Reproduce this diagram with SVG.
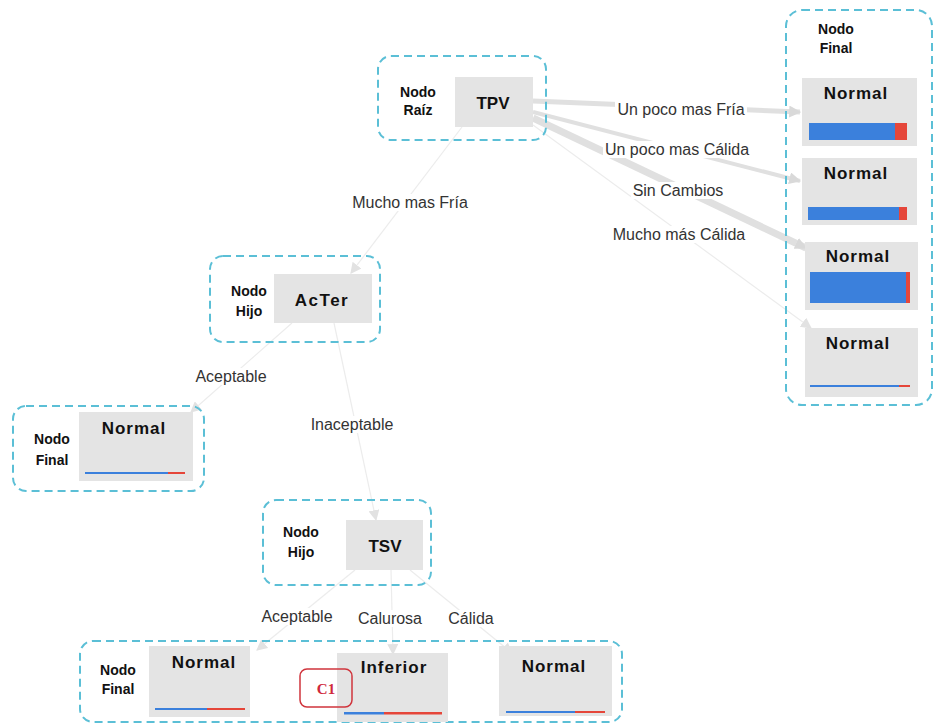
<svg xmlns="http://www.w3.org/2000/svg" width="934" height="727" viewBox="0 0 934 727">
<style>
.frame{fill:none;stroke:#5bbfd6;stroke-width:2;stroke-dasharray:8 5}
.box{fill:#e4e4e4}
.tag{font-family:"Liberation Sans",Arial,sans-serif;font-size:14px;font-weight:bold;fill:#111;text-anchor:middle}
.title{font-family:"Liberation Sans",Arial,sans-serif;font-size:17px;font-weight:bold;fill:#111;text-anchor:middle;letter-spacing:1px}
.lbl{font-family:"Liberation Sans",Arial,sans-serif;font-size:16px;fill:#333;text-anchor:middle}
.bg{fill:#fff}
.edge{fill:none;stroke:#e0e0e0}
.thin{fill:none;stroke:#ececec;stroke-width:1.2}
.blue{fill:#3b80dc}
.red{fill:#e5463a}
</style>
<defs>
<marker id="ah" viewBox="0 0 10 10" refX="9" refY="5" markerWidth="12" markerHeight="12" markerUnits="userSpaceOnUse" orient="auto">
<path d="M0,0 L10,5 L0,10 z" fill="#d9d9d9"/>
</marker>
<marker id="ahl" viewBox="0 0 10 10" refX="9" refY="5" markerWidth="11" markerHeight="11" markerUnits="userSpaceOnUse" orient="auto">
<path d="M0,0 L10,5 L0,10 z" fill="#e2e2e2"/>
</marker>
</defs>

<g id="connectors">
<line class="edge" x1="533" y1="101" x2="800" y2="112" stroke-width="5" marker-end="url(#ah)"/>
<line class="edge" x1="533" y1="112" x2="800" y2="181" stroke-width="4" marker-end="url(#ah)"/>
<line class="edge" x1="533" y1="118" x2="806" y2="248" stroke-width="7" marker-end="url(#ah)"/>
<line class="thin" x1="533" y1="125" x2="811" y2="328" marker-end="url(#ahl)"/>
<line class="thin" x1="462" y1="127" x2="351" y2="273" marker-end="url(#ahl)"/>
<line class="thin" x1="292" y1="323" x2="191" y2="412" marker-end="url(#ahl)"/>
<line class="thin" x1="334" y1="323" x2="376" y2="520" marker-end="url(#ahl)"/>
<line class="thin" x1="355" y1="570" x2="257" y2="650" marker-end="url(#ahl)"/>
<line class="thin" x1="391" y1="570" x2="393" y2="654" marker-end="url(#ahl)"/>
<line class="thin" x1="410" y1="570" x2="512" y2="653" marker-end="url(#ahl)"/>
<rect class="bg" x="615" y="101" width="132" height="17"/>
<rect class="bg" x="603" y="141" width="148" height="17"/>
<rect class="bg" x="631" y="182" width="94" height="17"/>
<rect class="bg" x="609" y="226" width="140" height="17"/>
<rect class="bg" x="350" y="194" width="120" height="17"/>
<rect class="bg" x="194" y="368" width="74" height="17"/>
<rect class="bg" x="310" y="416" width="85" height="17"/>
<rect class="bg" x="260" y="608" width="74" height="17"/>
<rect class="bg" x="358" y="610" width="65" height="17"/>
<rect class="bg" x="447" y="610" width="48" height="17"/>
<text class="lbl" x="681" y="115">Un poco mas Fría</text>
<text class="lbl" x="677" y="155">Un poco mas Cálida</text>
<text class="lbl" x="678" y="196">Sin Cambios</text>
<text class="lbl" x="679" y="240">Mucho más Cálida</text>
<text class="lbl" x="410" y="208">Mucho mas Fría</text>
<text class="lbl" x="231" y="382">Aceptable</text>
<text class="lbl" x="352" y="430">Inaceptable</text>
<text class="lbl" x="297" y="622">Aceptable</text>
<text class="lbl" x="390" y="624">Calurosa</text>
<text class="lbl" x="471" y="624">Cálida</text>
</g>

<g id="root">
<rect class="frame" x="378" y="56" width="168" height="84" rx="13"/>
<rect class="box" x="455" y="77" width="78" height="50"/>
<text class="title" x="493" y="109" style="letter-spacing:0">TPV</text>
<text class="tag" x="418" y="97">Nodo</text>
<text class="tag" x="418" y="115">Raíz</text>
</g>

<g id="final-right">
<rect class="frame" x="786" y="10" width="146" height="395" rx="16"/>
<text class="tag" x="836" y="34">Nodo</text>
<text class="tag" x="836" y="53">Final</text>
</g>

<g id="normal-r1">
<rect class="box" x="802" y="78" width="115" height="68"/>
<text class="title" x="856" y="99">Normal</text>
<rect class="blue" x="809" y="123" width="86" height="17"/>
<rect class="red" x="895" y="123" width="12" height="17"/>
</g>
<g id="normal-r2">
<rect class="box" x="802" y="158" width="115" height="67"/>
<text class="title" x="856" y="179">Normal</text>
<rect class="blue" x="808" y="207" width="91" height="13"/>
<rect class="red" x="899" y="207" width="8" height="13"/>
</g>
<g id="normal-r3">
<rect class="box" x="805" y="242" width="113" height="68"/>
<text class="title" x="858" y="262">Normal</text>
<rect class="blue" x="810" y="272" width="96" height="31"/>
<rect class="red" x="906" y="272" width="4" height="31"/>
</g>
<g id="normal-r4">
<rect class="box" x="805" y="328" width="113" height="69"/>
<text class="title" x="858" y="349">Normal</text>
<rect class="blue" x="810" y="385" width="89" height="2"/>
<rect class="red" x="899" y="385" width="11" height="2"/>
</g>

<g id="acter">
<rect class="frame" x="210" y="256" width="170" height="86" rx="13"/>
<rect class="box" x="274" y="274" width="98" height="49"/>
<text class="title" x="322" y="306" style="letter-spacing:1.5px">AcTer</text>
<text class="tag" x="249" y="296">Nodo</text>
<text class="tag" x="249" y="316">Hijo</text>
</g>

<g id="final-left">
<rect class="frame" x="13" y="406" width="191" height="85" rx="13"/>
<rect class="box" x="79" y="412" width="114" height="69"/>
<text class="title" x="134" y="434">Normal</text>
<rect class="blue" x="85" y="472" width="83" height="2"/>
<rect class="red" x="168" y="472" width="17" height="2"/>
<text class="tag" x="52" y="444">Nodo</text>
<text class="tag" x="52" y="465">Final</text>
</g>

<g id="tsv">
<rect class="frame" x="263" y="500" width="168" height="85" rx="13"/>
<rect class="box" x="346" y="520" width="77" height="50"/>
<text class="title" x="385" y="552" style="letter-spacing:0">TSV</text>
<text class="tag" x="301" y="537">Nodo</text>
<text class="tag" x="301" y="557">Hijo</text>
</g>

<g id="final-bottom">
<rect class="frame" x="80" y="641" width="542" height="81" rx="13"/>
<text class="tag" x="118" y="675">Nodo</text>
<text class="tag" x="118" y="694">Final</text>
</g>
<g id="normal-b1">
<rect class="box" x="149" y="646" width="101" height="71"/>
<text class="title" x="204" y="668">Normal</text>
<rect class="blue" x="155" y="708" width="52" height="2"/>
<rect class="red" x="207" y="708" width="38" height="2"/>
</g>
<g id="inferior">
<rect class="box" x="337" y="653" width="111" height="69"/>
<text class="title" x="394" y="673">Inferior</text>
<rect class="blue" x="344" y="712" width="40" height="2.5"/>
<rect class="red" x="384" y="712" width="58" height="2.5"/>
</g>
<g id="c1">
<rect x="300" y="669" width="52" height="38" rx="7" fill="none" stroke="#d0343c" stroke-width="1.5"/>
<text x="326" y="694" font-family="Liberation Serif,'Times New Roman',serif" font-size="15" font-weight="bold" fill="#d0283a" text-anchor="middle">C1</text>
</g>
<g id="normal-b2">
<rect class="box" x="499" y="646" width="113" height="70"/>
<text class="title" x="554" y="672">Normal</text>
<rect class="blue" x="506" y="711" width="69" height="2"/>
<rect class="red" x="575" y="711" width="30" height="2"/>
</g>
</svg>
